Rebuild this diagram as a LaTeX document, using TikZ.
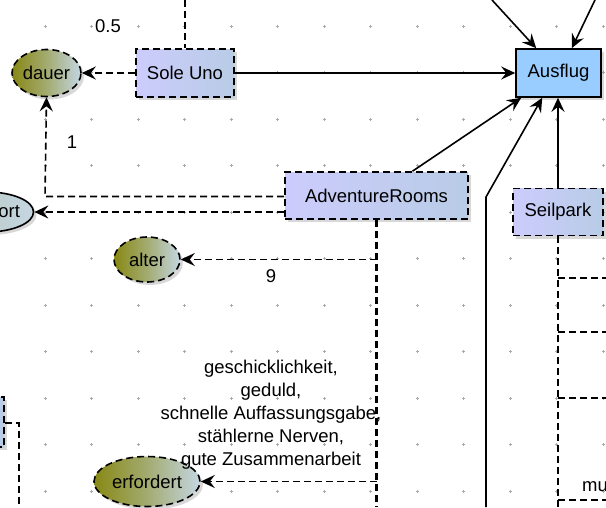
\documentclass[tikz,border=0pt]{standalone}
\usepackage{fontspec}
\setmainfont{Liberation Sans}
\usetikzlibrary{arrows.meta,shadows,shapes.geometric,calc}
\definecolor{boxL}{RGB}{204,204,252}
\definecolor{boxR}{RGB}{184,204,230}
\definecolor{ausB}{RGB}{153,204,255}
\definecolor{olive}{RGB}{136,136,20}
\definecolor{ellR}{RGB}{196,214,226}
\definecolor{gridc}{RGB}{170,170,170}
\tikzset{
  dsh/.style={dash pattern=on 7pt off 4pt},
  txt/.style={font=\fontsize{18.5}{23}\selectfont},
  shad/.style={drop shadow={opacity=0.3,shadow xshift=3pt,shadow yshift=-3pt}},
  box/.style={txt,draw,dsh,line width=1.6pt,left color=boxL,right color=boxR,shad,inner sep=0pt},
  ausbox/.style={txt,draw,line width=1.6pt,fill=ausB,shad,inner sep=0pt},
  ell/.style={txt,ellipse,draw,dsh,line width=1.6pt,left color=olive,right color=ellR,middle color=olive!55!ellR,shad,inner sep=0pt},
  ellsolid/.style={txt,ellipse,draw,line width=1.6pt,left color=ellR!80!olive,right color=ellR,shad,inner sep=0pt},
  con/.style={line width=1.6pt},
  dcon/.style={line width=1.6pt,dsh},
  trunk/.style={line width=2.4pt,dsh},
  arr/.style={-{Stealth[length=14pt,width=13pt,inset=5pt]}},
  lbl/.style={txt,inner sep=0pt}
}
\begin{document}
\begin{tikzpicture}[x=1pt,y=-1pt]
\useasboundingbox (0,0) rectangle (606,507);
\clip (0,0) rectangle (606,507);
\fill[white] (0,0) rectangle (606,507);
% grid marks
\foreach \i in {0,...,13}{
  \foreach \j in {0,...,10}{
    \draw[gridc,line width=0.5pt] ({-1.5+46.5*\i-1.5},{26+46.5*\j}) -- ++(3,0)
      ({-1.5+46.5*\i},{26+46.5*\j-1.5}) -- ++(0,3);
  }
}
% nodes
\node[box,minimum width=98pt,minimum height=48pt] (sole) at (185,73) {Sole Uno};
\node[ausbox,minimum width=85pt,minimum height=48pt] (ausflug) at (558.5,73) {Ausflug};
\node[box,minimum width=183pt,minimum height=47pt] (adv) at (376.5,195.5) {AdventureRooms};
\node[box,minimum width=90pt,minimum height=47pt] (seil) at (558,212) {Seilpark};
\node[ell,minimum width=69pt,minimum height=47pt] (dauer) at (46.5,73) {dauer};
\node[ell,minimum width=66pt,minimum height=45pt] (alter) at (147,259.5) {alter};
\node[ell,minimum width=106pt,minimum height=50pt] (erf) at (147,481.5) {erfordert};
\node[ellsolid,minimum width=92pt,minimum height=40pt] (ort) at (-13,212) {\hphantom{wohn}ort};
\node[box,minimum width=64pt,minimum height=50pt] (leftbox) at (-28,422) {};
% helper coordinates
\coordinate (soletop) at (185,0);
\coordinate (t1) at (492,0);
\coordinate (t2) at (595,0);
\coordinate (b1) at (486,507);
\coordinate (b2) at (486,197);
\coordinate (advbot) at (376.5,507);
\coordinate (seilbot) at (558,507);
\coordinate (corner1) at (45,196.5);
\coordinate (lb1) at (19,423);
\coordinate (lb2) at (19,507);
% connectors
\draw[dcon] (soletop) -- (sole.north);
\draw[dcon,arr] (sole.west) -- (dauer.east);
\draw[con,arr] (sole.east) -- (ausflug.west);
\draw[con,arr] (t1) -- ([xshift=21pt]ausflug.north west);
\draw[con,arr] (t2) -- ([xshift=-30pt]ausflug.north east);
\draw[con,arr] ([xshift=36pt]adv.north) -- ([xshift=6pt]ausflug.south west);
\draw[con,arr] (b1) -- (b2) -- ([xshift=27pt]ausflug.south west);
\draw[con,arr] (seil.north) -- (seil.north |- ausflug.south);
% seilpark branches
\draw[trunk] (seil.south) -- (seilbot);
\foreach \yy in {278,332,398,500}{
  \draw[dcon] (558,\yy) -- (610,\yy);
}
\node[lbl,anchor=west] (mu) at (582,487) {mu};
% adventure rooms
\draw[trunk] (adv.south) -- (advbot);
\draw[dcon,arr] (adv.south |- alter.east) -- (alter.east);
\draw[dcon,arr] (adv.south |- erf.east) -- (erf.east);
\draw[dcon,arr] (adv.west |- corner1) -- (corner1) -- (dauer.south);
\draw[dcon,arr] (adv.west |- ort.east) -- (ort.east);
\draw[dcon] (lb1 -| leftbox.east) -- (lb1) -- (lb2);
% labels
\node[lbl] (l05) at (108,26) {0.5};
\node[lbl] (l1) at (72,142) {1};
\node[lbl] (l9) at (271,276) {9};
\node[lbl,align=center] (lreq) at (271,415) {geschicklichkeit,\\geduld,\\schnelle Auffassungsgabe,\\stählerne Nerven,\\gute Zusammenarbeit};
\end{tikzpicture}
\end{document}
